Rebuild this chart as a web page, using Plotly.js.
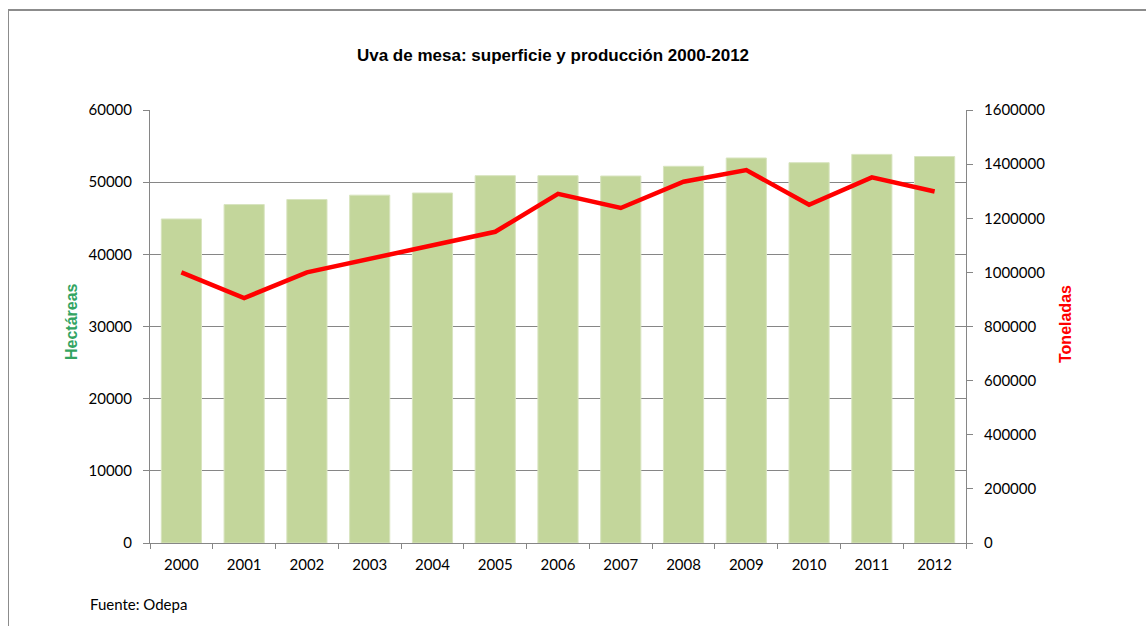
<!DOCTYPE html>
<html>
<head>
<meta charset="utf-8">
<script src="https://cdn.plot.ly/plotly-3.0.1.min.js"></script>
<style>
  html, body { margin: 0; padding: 0; background: #fff; }
  #wrap { position: relative; width: 1146px; height: 626px; overflow: hidden; }
  #chart { width: 1146px; height: 626px; }
  #frame { position: absolute; left: 8px; top: 9px; width: 1200px; height: 700px;
           border-left: 1px solid #8c8c8c; border-top: 2px solid #8c8c8c; pointer-events: none; }
</style>
</head>
<body>
<div id="wrap">
  <div id="chart"></div>
  <div id="frame"></div>
</div>
<script>
const years = ["2000","2001","2002","2003","2004","2005","2006","2007","2008","2009","2010","2011","2012"];
const hectareas = [44900, 46900, 47600, 48200, 48500, 50900, 50900, 50850, 52200, 53350, 52700, 53850, 53550];
const toneladas = [1000000, 905000, 1000000, 1050000, 1100000, 1150000, 1290000, 1238000, 1335000, 1378000, 1250000, 1351000, 1299000];
const leftTicks = [0, 10000, 20000, 30000, 40000, 50000, 60000];
const rightTicks = [0, 200000, 400000, 600000, 800000, 1000000, 1200000, 1400000, 1600000];

const tickFont = { family: "Lato, 'Open Sans', sans-serif", size: 15, color: "#000" };
const axisGray = "#868686";

const traces = [
  {
    type: "bar", x: years, y: hectareas, name: "Hectáreas",
    marker: { color: "#C3D69B", line: { color: "#D8E4BF", width: 1 } },
    hoverinfo: "x+y"
  },
  {
    type: "scatter", mode: "lines", x: years, y: toneladas, name: "Toneladas", yaxis: "y2",
    line: { color: "#FF0000", width: 4.5 },
    hoverinfo: "x+y"
  }
];

const layout = {
  width: 1146, height: 626,
  margin: { l: 150, r: 180, t: 110, b: 83 },
  paper_bgcolor: "#fff", plot_bgcolor: "#fff",
  showlegend: false,
  bargap: 0.36,
  title: {
    text: "Uva de mesa: superficie y producción 2000-2012",
    font: { family: "'Liberation Sans', Arial, sans-serif", size: 17, color: "#000", weight: "bold" },
    x: 566 / 1146, xref: "paper", xanchor: "center",
    y: 1 - 55 / 626, yref: "container", yanchor: "middle"
  },
  xaxis: {
    type: "category",
    showline: true, linecolor: axisGray, linewidth: 1,
    ticks: "outside", tickson: "boundaries", ticklen: 5, tickcolor: axisGray,
    tickfont: tickFont, ticklabelstandoff: 8,
    showgrid: false, zeroline: false, fixedrange: true
  },
  yaxis: {
    range: [0, 60000], tickvals: leftTicks, ticktext: leftTicks.map(String),
    showline: true, linecolor: axisGray, linewidth: 1,
    ticks: "outside", ticklen: 6, tickcolor: axisGray,
    tickfont: tickFont, ticklabelstandoff: 8,
    showgrid: true, gridcolor: axisGray, gridwidth: 1,
    zeroline: false, fixedrange: true
  },
  yaxis2: {
    overlaying: "y", side: "right",
    range: [0, 1600000], tickvals: rightTicks, ticktext: rightTicks.map(String),
    showline: true, linecolor: axisGray, linewidth: 1,
    ticks: "outside", ticklen: 6, tickcolor: axisGray,
    tickfont: tickFont, ticklabelstandoff: 8,
    showgrid: false, zeroline: false, fixedrange: true
  },
  annotations: [
    {
      text: "Hectáreas", xref: "paper", yref: "paper",
      x: (71 - 150) / 816, y: (543 - 322) / 433, xanchor: "center", yanchor: "middle",
      textangle: -90, showarrow: false,
      font: { family: "'Liberation Sans', Arial, sans-serif", size: 16, color: "#33A462", weight: "bold" }
    },
    {
      text: "Toneladas", xref: "paper", yref: "paper",
      x: (1065 - 150) / 816, y: (543 - 324) / 433, xanchor: "center", yanchor: "middle",
      textangle: -90, showarrow: false,
      font: { family: "'Liberation Sans', Arial, sans-serif", size: 16, color: "#FF0000", weight: "bold" }
    },
    {
      text: "Fuente: Odepa", xref: "paper", yref: "paper",
      x: (88 - 150) / 816, y: (543 - 604) / 433, xanchor: "left", yanchor: "middle",
      showarrow: false,
      font: { family: "Lato, 'Open Sans', sans-serif", size: 15, color: "#000" }
    }
  ]
};

Plotly.newPlot("chart", traces, layout, { displayModeBar: false, staticPlot: true });
</script>
</body>
</html>
